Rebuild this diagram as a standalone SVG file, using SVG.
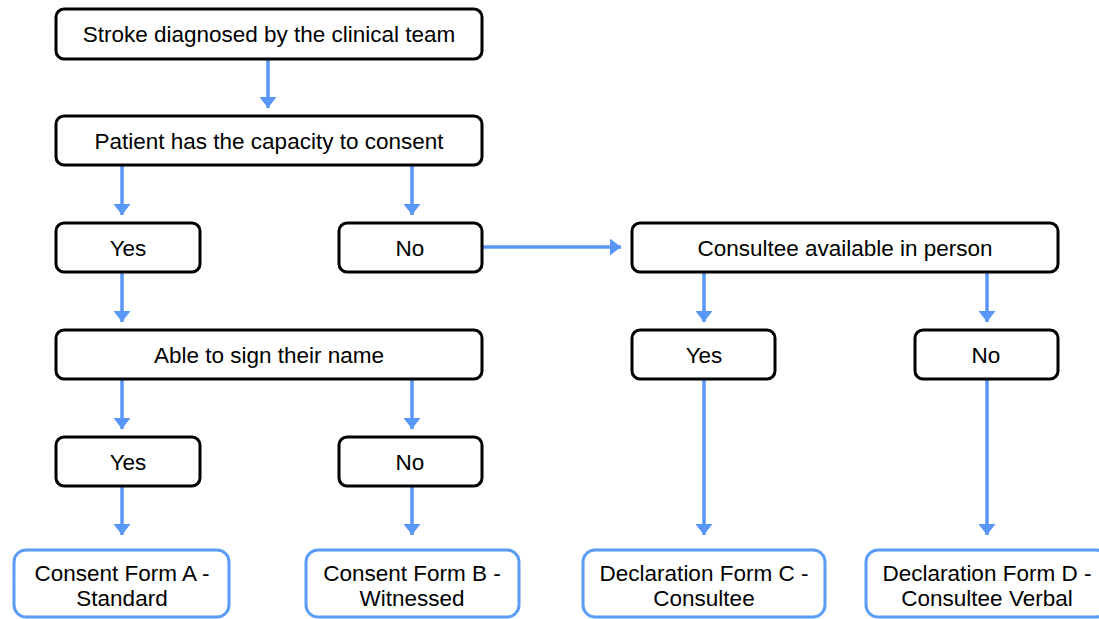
<svg xmlns="http://www.w3.org/2000/svg" width="1099" height="619" viewBox="0 0 1099 619">
<defs>
<style>
.n{fill:#fff;stroke:#000;stroke-width:3}
.f{fill:#fff;stroke:#5B9CF6;stroke-width:3}
text{font-family:"Liberation Sans",Arial,sans-serif;font-size:22.5px;fill:#000;text-anchor:middle}
.c{stroke:#5897F7;stroke-width:3.5;fill:none;marker-end:url(#ah)}
</style>
<marker id="ah" viewBox="0 0 11 17" refX="11" refY="8.5" markerWidth="11" markerHeight="17" markerUnits="userSpaceOnUse" orient="auto">
<path d="M0,0 L11,8.5 L0,17 Z" fill="#5897F7"/>
</marker>
</defs>
<rect width="1099" height="619" fill="#fff"/>
<g id="connectors">
<line class="c" x1="268" y1="59" x2="268" y2="108"/>
<line class="c" x1="122" y1="165" x2="122" y2="215"/>
<line class="c" x1="412" y1="165" x2="412" y2="215"/>
<line class="c" x1="483" y1="247" x2="621" y2="247"/>
<line class="c" x1="122" y1="272" x2="122" y2="322"/>
<line class="c" x1="704" y1="272" x2="704" y2="322"/>
<line class="c" x1="987" y1="272" x2="987" y2="322"/>
<line class="c" x1="122" y1="379" x2="122" y2="429"/>
<line class="c" x1="412" y1="379" x2="412" y2="429"/>
<line class="c" x1="122" y1="486" x2="122" y2="535"/>
<line class="c" x1="412" y1="486" x2="412" y2="535"/>
<line class="c" x1="704" y1="379" x2="704" y2="535"/>
<line class="c" x1="987" y1="379" x2="987" y2="535"/>
</g>
<g id="stroke"><rect class="n" x="56" y="9" width="426" height="50" rx="8"/><text x="269" y="42">Stroke diagnosed by the clinical team</text></g>
<g id="capacity"><rect class="n" x="56" y="116" width="426" height="49" rx="8"/><text x="269" y="149">Patient has the capacity to consent</text></g>
<g id="cap-yes"><rect class="n" x="56" y="223" width="144" height="49" rx="8"/><text x="128" y="256">Yes</text></g>
<g id="cap-no"><rect class="n" x="339" y="223" width="143" height="49" rx="8"/><text x="410" y="256">No</text></g>
<g id="consultee"><rect class="n" x="632" y="223" width="426" height="49" rx="8"/><text x="845" y="256">Consultee available in person</text></g>
<g id="sign"><rect class="n" x="56" y="330" width="426" height="49" rx="8"/><text x="269" y="363">Able to sign their name</text></g>
<g id="con-yes"><rect class="n" x="632" y="330" width="143" height="49" rx="8"/><text x="704" y="363">Yes</text></g>
<g id="con-no"><rect class="n" x="915" y="330" width="143" height="49" rx="8"/><text x="986" y="363">No</text></g>
<g id="sign-yes"><rect class="n" x="56" y="437" width="144" height="49" rx="8"/><text x="128" y="470">Yes</text></g>
<g id="sign-no"><rect class="n" x="339" y="437" width="143" height="49" rx="8"/><text x="410" y="470">No</text></g>
<g id="formA"><rect class="f" x="14" y="550" width="215" height="67" rx="12"/><text x="122" y="581">Consent Form A -</text><text x="122" y="606">Standard</text></g>
<g id="formB"><rect class="f" x="306" y="550" width="213" height="67" rx="12"/><text x="412" y="581">Consent Form B -</text><text x="412" y="606">Witnessed</text></g>
<g id="formC"><rect class="f" x="583" y="550" width="242" height="67" rx="12"/><text x="704" y="581">Declaration Form C -</text><text x="704" y="606">Consultee</text></g>
<g id="formD"><rect class="f" x="866" y="550" width="242" height="67" rx="12"/><text x="987" y="581">Declaration Form D -</text><text x="987" y="606">Consultee Verbal</text></g>
</svg>
